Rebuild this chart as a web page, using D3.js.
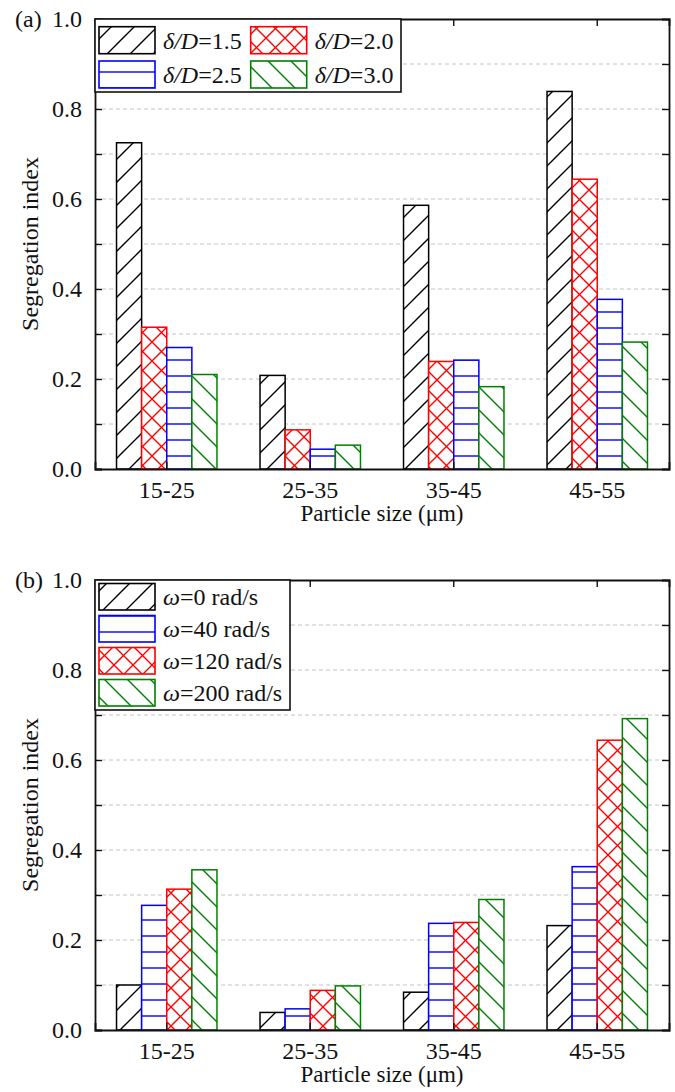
<!DOCTYPE html>
<html><head><meta charset="utf-8">
<script src="https://cdn.jsdelivr.net/npm/d3@7"></script>
<style>
body{margin:0;background:#fff;}
svg{display:block;}
text{font-family:"Liberation Serif","Times New Roman",serif;fill:#111;}
</style>
</head><body>
<svg id="c" width="675" height="1092"></svg>
<script>
// ---------- data ----------
const categories = ["15-25", "25-35", "35-45", "45-55"];
const yTickLabels = [0.0, 0.2, 0.4, 0.6, 0.8, 1.0];
const yMinorTicks = [0.1, 0.2, 0.3, 0.4, 0.5, 0.6, 0.7, 0.8, 0.9];

// panel (a): delta/D
const seriesNamesA = ["1.5", "2.0", "2.5", "3.0"];
const deltaD_1_5 = [0.725, 0.208, 0.586, 0.839];
const deltaD_2_0 = [0.315, 0.087, 0.239, 0.644];
const deltaD_2_5 = [0.270, 0.044, 0.242, 0.377];
const deltaD_3_0 = [0.210, 0.053, 0.183, 0.282];

// panel (b): omega
const seriesNamesB = ["0", "40", "120", "200"];
const omega_0   = [0.100, 0.039, 0.084, 0.232];
const omega_40  = [0.277, 0.047, 0.237, 0.363];
const omega_120 = [0.313, 0.088, 0.239, 0.644];
const omega_200 = [0.356, 0.098, 0.290, 0.692];

const xTitle = "Particle size (\u03bcm)";
const yTitle = "Segregation index";

// ---------- styles ----------
const styles = {
  fwd:   {color: "#000000"},
  cross: {color: "#ff0000"},
  horiz: {color: "#0000ff"},
  back:  {color: "#008000"}
};

const svg = d3.select("#c");
const defs = svg.append("defs");

function makePattern(id, kind, color) {
  let s = 23, w = s, h = s;
  if (kind === "cross") { s = 19; w = s; h = s; }
  if (kind === "horiz") { w = 10; h = 16; }
  const p = defs.append("pattern").attr("id", id)
    .attr("patternUnits", "userSpaceOnUse").attr("width", w).attr("height", h);
  p.append("rect").attr("width", w).attr("height", h).attr("fill", "#fff");
  const st = {stroke: color, "stroke-width": 1.4, fill: "none"};
  const add = d => { const q = p.append("path").attr("d", d); for (const k in st) q.attr(k, st[k]); };
  if (kind === "fwd" || kind === "cross") {
    add(`M0,${s} L${s},0 M${-s/4},${s/4} L${s/4},${-s/4} M${3*s/4},${5*s/4} L${5*s/4},${3*s/4}`);
  }
  if (kind === "back" || kind === "cross") {
    add(`M0,0 L${s},${s} M${-s/4},${3*s/4} L${s/4},${5*s/4} M${3*s/4},${-s/4} L${5*s/4},${s/4}`);
  }
  if (kind === "horiz") {
    add(`M0,${h/2} L${w},${h/2}`);
  }
}
Object.keys(styles).forEach(k => makePattern("pat-" + k, k, styles[k].color));

const font = 24;

function panel(cfg) {
  const left = 95, right = 669, top = cfg.top, bottom = cfg.top + 450;
  const g = svg.append("g");
  const x = d3.scaleBand().domain(categories).range([left, right]).paddingInner(0.3).paddingOuter(0.15);
  const x1 = d3.scaleBand().domain(d3.range(cfg.series.length)).range([0, x.bandwidth()]);
  const y = d3.scaleLinear().domain([0, 1]).range([bottom, top]);

  // grid
  g.append("g").selectAll("line").data(yMinorTicks).join("line")
    .attr("x1", left).attr("x2", right)
    .attr("y1", d => y(d)).attr("y2", d => y(d))
    .attr("stroke", "#c4c4c4").attr("stroke-width", 1).attr("stroke-dasharray", "4,3");

  // bars
  cfg.series.forEach((s, i) => {
    g.append("g").selectAll("rect").data(s.values).join("rect")
      .attr("x", (d, j) => x(categories[j]) + x1(i))
      .attr("y", d => y(d))
      .attr("width", x1.bandwidth())
      .attr("height", d => y(0) - y(d))
      .attr("fill", `url(#pat-${s.kind})`)
      .attr("stroke", styles[s.kind].color).attr("stroke-width", 1.5);
  });

  // frame axes
  const axL = d3.axisLeft(y).tickValues(yMinorTicks.concat([0, 1])).tickSize(-7).tickFormat("");
  const axR = d3.axisRight(y).tickValues(yMinorTicks).tickSize(-7).tickFormat("");
  const axB = d3.axisBottom(x).tickSize(-7).tickFormat("");
  const axT = d3.axisTop(x).tickSize(-7).tickFormat("");
  [[axL, `translate(${left},0)`], [axR, `translate(${right},0)`],
   [axB, `translate(0,${bottom})`], [axT, `translate(0,${top})`]].forEach(([ax, tr]) => {
    const a = g.append("g").attr("transform", tr).call(ax);
    a.select(".domain").attr("stroke", "#111").attr("stroke-width", 1.8);
    a.selectAll(".tick line").attr("stroke", "#111").attr("stroke-width", 1.4);
  });

  // y tick labels
  g.append("g").selectAll("text").data(yTickLabels).join("text")
    .attr("x", 82).attr("y", d => y(d)).attr("dy", "0.35em")
    .attr("text-anchor", "end").attr("font-size", font)
    .text(d => d.toFixed(1));

  // x tick labels
  g.append("g").selectAll("text").data(categories).join("text")
    .attr("x", d => x(d) + x.bandwidth() / 2).attr("y", bottom + 29)
    .attr("text-anchor", "middle").attr("font-size", font).text(d => d);

  // axis titles
  g.append("text").attr("x", (left + right) / 2).attr("y", bottom + 52)
    .attr("text-anchor", "middle").attr("font-size", font - 1).text(xTitle);
  g.append("text").attr("transform", `translate(37.5,${(top + bottom) / 2}) rotate(-90)`)
    .attr("text-anchor", "middle").attr("font-size", font).text(yTitle);

  // panel tag
  g.append("text").attr("x", 15).attr("y", top + 7.5).attr("font-size", font).text(cfg.tag);

  // legend
  const L = cfg.legend;
  g.append("rect").attr("x", left).attr("y", top).attr("width", L.w).attr("height", L.h)
    .attr("fill", "#fff").attr("stroke", "#111").attr("stroke-width", 1.6);
  cfg.series.forEach((s, i) => {
    const col = L.cols === 2 ? i % 2 : 0;
    const row = L.cols === 2 ? Math.floor(i / 2) : i;
    const sx = left + 4 + col * L.colW, sy = top + L.y0 + row * L.rowH;
    g.append("rect").attr("x", sx).attr("y", sy).attr("width", 56).attr("height", L.sh)
      .attr("fill", `url(#pat-${s.kind})`)
      .attr("stroke", styles[s.kind].color).attr("stroke-width", 1.6);
    const t = g.append("text").attr("x", sx + 64).attr("y", sy + L.sh / 2).attr("dy", "0.35em")
      .attr("font-size", font);
    t.append("tspan").attr("font-style", "italic").text(cfg.sym);
    t.append("tspan").text("=" + s.name + cfg.unit);
  });
}

panel({
  top: 19, tag: "(a)", sym: "\u03b4/D", unit: "",
  legend: {w: 306, h: 73, cols: 2, colW: 151.7, y0: 7.7, rowH: 34.3, sh: 27},
  series: [
    {name: seriesNamesA[0], values: deltaD_1_5, kind: "fwd"},
    {name: seriesNamesA[1], values: deltaD_2_0, kind: "cross"},
    {name: seriesNamesA[2], values: deltaD_2_5, kind: "horiz"},
    {name: seriesNamesA[3], values: deltaD_3_0, kind: "back"}
  ]
});

panel({
  top: 580, tag: "(b)", sym: "\u03c9", unit: " rad/s",
  legend: {w: 195, h: 130, cols: 1, colW: 0, y0: 3.5, rowH: 32, sh: 26.5},
  series: [
    {name: seriesNamesB[0], values: omega_0, kind: "fwd"},
    {name: seriesNamesB[1], values: omega_40, kind: "horiz"},
    {name: seriesNamesB[2], values: omega_120, kind: "cross"},
    {name: seriesNamesB[3], values: omega_200, kind: "back"}
  ]
});
</script>
</body></html>
